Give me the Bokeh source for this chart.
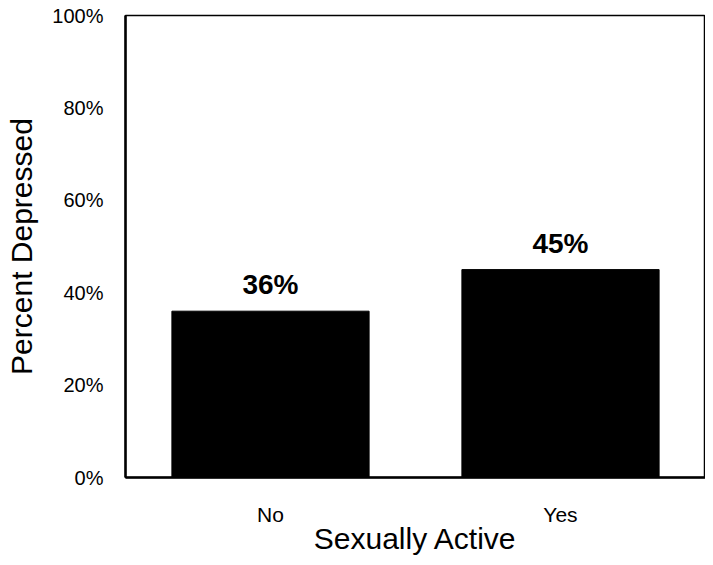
from bokeh.plotting import figure
from bokeh.models import ColumnDataSource, NumeralTickFormatter, FixedTicker, Range1d
from bokeh.core.properties import value
from bokeh.embed import file_html
from bokeh.resources import INLINE

categories = ["No", "Yes"]
percent_depressed = [0.36, 0.45]
bar_labels = ["36%", "45%"]
y_ticks = [0, 0.2, 0.4, 0.6, 0.8, 1.0]

FONT = "Liberation Sans"

src = ColumnDataSource(dict(cat=categories, val=percent_depressed, lab=bar_labels))

p = figure(x_range=categories, y_range=Range1d(0, 1), width=705, height=557,
           output_backend="svg", toolbar_location=None,
           min_border_top=15, min_border_right=0, min_border_left=125, min_border_bottom=79)

p.vbar(x="cat", top="val", width=0.68, source=src, fill_color="black", line_color="black")
p.text(x="cat", y="val", text="lab", source=src, text_align="center", text_baseline="bottom",
       y_offset=-11, text_font=value(FONT), text_font_size="28px", text_font_style="bold",
       text_color="black")

p.xgrid.visible = False
p.ygrid.visible = False
p.outline_line_color = "black"
p.outline_line_width = 1.5
p.outline_line_alpha = 1

p.yaxis.ticker = FixedTicker(ticks=y_ticks)
p.yaxis.formatter = NumeralTickFormatter(format="0%")
for ax in (p.xaxis[0], p.yaxis[0]):
    ax.axis_line_color = "black"
    ax.axis_line_width = 2.5
    ax.major_tick_line_color = None
    ax.minor_tick_line_color = None
    ax.major_tick_out = 0
    ax.major_tick_in = 0
    ax.minor_tick_out = 0
    ax.minor_tick_in = 0
    ax.major_label_text_font = FONT
    ax.major_label_text_font_size = "20px"
    ax.major_label_text_color = "black"
    ax.axis_label_text_font = FONT
    ax.axis_label_text_font_size = "30px"
    ax.axis_label_text_font_style = "normal"
    ax.axis_label_text_color = "black"

p.xaxis.major_label_text_font_size = "21px"
p.yaxis.axis_label = "Percent Depressed"
p.yaxis.major_label_standoff = 22
p.yaxis.axis_label_standoff = 11
p.xaxis.axis_label = "Sexually Active"
p.xaxis.major_label_standoff = 25
p.xaxis.axis_label_standoff = -7
p.x_range.range_padding = 0

open("out.html", "w").write(file_html(p, INLINE))
